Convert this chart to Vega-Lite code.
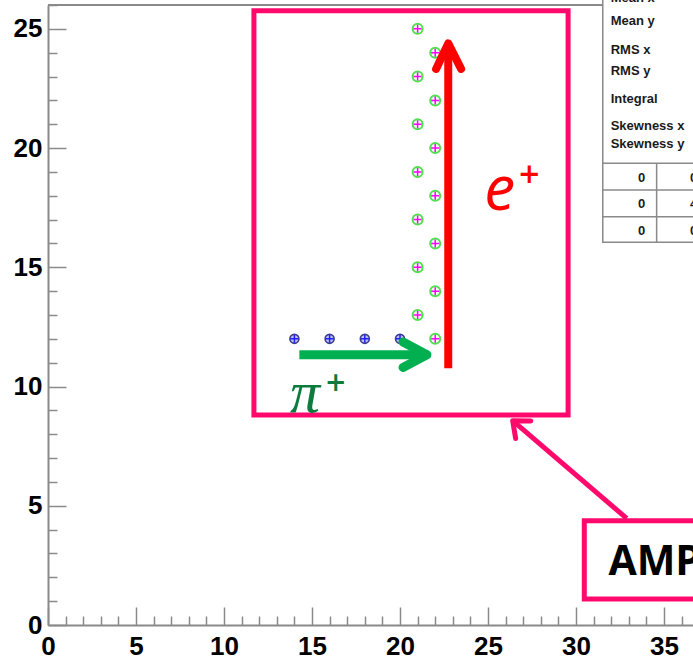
{
  "$schema": "https://vega.github.io/schema/vega-lite/v6.json",
  "width": 647,
  "height": 620,
  "autosize": {"type": "none"},
  "padding": {"left": 48, "top": 5, "right": 0, "bottom": 34},
  "background": "white",
  "config": {"view": {"stroke": null}},
  "datasets": {
    "pion": [{"x": 14, "y": 12}, {"x": 16, "y": 12}, {"x": 18, "y": 12}, {"x": 20, "y": 12}],
    "positron": [
      {"x": 21, "y": 25}, {"x": 21, "y": 23}, {"x": 21, "y": 21}, {"x": 21, "y": 19}, {"x": 21, "y": 17}, {"x": 21, "y": 15}, {"x": 21, "y": 13},
      {"x": 22, "y": 24}, {"x": 22, "y": 22}, {"x": 22, "y": 20}, {"x": 22, "y": 18}, {"x": 22, "y": 16}, {"x": 22, "y": 14}, {"x": 22, "y": 12}
    ],
    "frameTop": [{"x": 0, "x2": 31.52, "y": 26}],
    "zoomBox": [{"x": 11.7, "x2": 29.55, "y": 8.81, "y2": 25.76}],
    "greenShaft": [{"x": 14.28, "x2": 21.53, "y": 11.33}],
    "greenHead": [{"x": 20.17, "y": 11.87, "o": 0}, {"x": 21.53, "y": 11.33, "o": 1}, {"x": 20.17, "y": 10.8, "o": 2}],
    "redShaft": [{"x": 22.74, "y": 10.77, "y2": 24.39}],
    "redHead": [{"x": 22.05, "y": 23.32, "o": 0}, {"x": 22.74, "y": 24.39, "o": 1}, {"x": 23.47, "y": 23.32, "o": 2}],
    "pinkShaft": [{"x": 32.88, "y": 4.47, "x2": 26.4, "y2": 8.57}],
    "pinkHead": [{"x": 27.43, "y": 8.56, "o": 0}, {"x": 26.4, "y": 8.57, "o": 1}, {"x": 26.57, "y": 7.82, "o": 2}],
    "ampBox": [{"x": 30.47, "x2": 40, "y": 1.09, "y2": 4.37}],
    "ampText": [{"x": 31.84, "y": 2.1, "t": "AMP"}],
    "eText": [{"x": 24.78, "y": 17.4, "t": "e"}],
    "ePlus": [{"x": 27.35, "y": 18.85, "t": "+"}],
    "piText": [{"x": 13.75, "y": 8.94, "t": "π"}],
    "piPlus": [{"x": 16.35, "y": 10.05, "t": "+"}],
    "statsBox": [{"x": 31.52, "x2": 40, "y": 16.05, "y2": 27.5}],
    "statsLabels": [
      {"x": 31.97, "y": 26.13, "t": "Mean x"},
      {"x": 31.97, "y": 25.15, "t": "Mean y"},
      {"x": 31.97, "y": 23.94, "t": "RMS x"},
      {"x": 31.97, "y": 23.06, "t": "RMS y"},
      {"x": 31.97, "y": 21.9, "t": "Integral"},
      {"x": 31.97, "y": 20.76, "t": "Skewness x"},
      {"x": 31.97, "y": 19.99, "t": "Skewness y"}
    ],
    "statsHLines": [{"x": 31.52, "x2": 40, "y": 19.36}, {"x": 31.52, "x2": 40, "y": 18.24}, {"x": 31.52, "x2": 40, "y": 17.12}],
    "statsVLine": [{"x": 34.58, "y": 16.05, "y2": 19.36}],
    "statsCells": [{"x": 33.73, "y": 18.59, "t": "0"}, {"x": 33.73, "y": 17.47, "t": "0"}, {"x": 33.73, "y": 16.35, "t": "0"}],
    "statsCells2": [{"x": 36.48, "y": 18.59, "t": "0"}, {"x": 36.48, "y": 17.47, "t": "4"}, {"x": 36.48, "y": 16.35, "t": "0"}]
  },
  "encoding": {
    "x": {
      "field": "x",
      "type": "quantitative",
      "scale": {"domain": [0, 36.76], "nice": false, "zero": false},
      "axis": {
        "title": null,
        "grid": false,
        "values": [0,1,2,3,4,5,6,7,8,9,10,11,12,13,14,15,16,17,18,19,20,21,22,23,24,25,26,27,28,29,30,31,32,33,34,35,36],
        "labelExpr": "datum.value % 5 === 0 ? datum.label : ''",
        "tickSize": {"condition": {"test": "datum.value % 5 === 0", "value": -18}, "value": -9},
        "tickColor": "#8a8a8a",
        "tickWidth": 1.5,
        "domainColor": "#8a8a8a",
        "domainWidth": 2,
        "labelFont": "Liberation Sans",
        "labelFontWeight": "bold",
        "labelFontSize": 26,
        "labelColor": "#000000",
        "labelPadding": 26,
        "labelOverlap": false,
        "labelFlush": false
      }
    },
    "y": {
      "field": "y",
      "type": "quantitative",
      "scale": {"domain": [0, 26], "nice": false, "zero": false},
      "axis": {
        "title": null,
        "grid": false,
        "values": [0,1,2,3,4,5,6,7,8,9,10,11,12,13,14,15,16,17,18,19,20,21,22,23,24,25,26],
        "labelExpr": "datum.value % 5 === 0 ? datum.label : ''",
        "tickSize": {"condition": {"test": "datum.value % 5 === 0", "value": -18}, "value": -9},
        "tickColor": "#8a8a8a",
        "tickWidth": 1.5,
        "domainColor": "#8a8a8a",
        "domainWidth": 2,
        "labelFont": "Liberation Sans",
        "labelFontWeight": "bold",
        "labelFontSize": 26,
        "labelColor": "#000000",
        "labelPadding": 24,
        "labelOverlap": false,
        "labelFlush": false
      }
    }
  },
  "layer": [
    {"data": {"name": "frameTop"}, "mark": {"type": "rule", "color": "#8a8a8a", "strokeWidth": 2}, "encoding": {"x2": {"field": "x2"}}},
    {"data": {"name": "pion"}, "mark": {"type": "point", "shape": "circle", "size": 81, "filled": false, "stroke": "#3e3e8e", "fill": "#c0c0ee", "fillOpacity": 1, "strokeWidth": 1.6, "opacity": 1}},
    {"data": {"name": "pion"}, "mark": {"type": "point", "shape": "M-1,0H1M0,-1V1", "size": 64, "filled": false, "stroke": "#1f1fff", "strokeWidth": 1.5, "opacity": 1}},
    {"data": {"name": "positron"}, "mark": {"type": "point", "shape": "circle", "size": 100, "filled": false, "stroke": "#4fe04f", "fill": "#f0fff0", "fillOpacity": 1, "strokeWidth": 2, "opacity": 1}},
    {"data": {"name": "positron"}, "mark": {"type": "point", "shape": "M-1,0H1M0,-1V1", "size": 64, "filled": false, "stroke": "#ff00ff", "strokeWidth": 1.5, "opacity": 1}},
    {"data": {"name": "zoomBox"}, "mark": {"type": "rect", "filled": false, "stroke": "#ff0a6c", "strokeWidth": 5}, "encoding": {"x2": {"field": "x2"}, "y2": {"field": "y2"}}},
    {"data": {"name": "greenShaft"}, "mark": {"type": "rule", "color": "#00b050", "strokeWidth": 9, "strokeCap": "butt"}, "encoding": {"x2": {"field": "x2"}}},
    {"data": {"name": "greenHead"}, "mark": {"type": "line", "color": "#00b050", "strokeWidth": 9, "strokeCap": "round", "strokeJoin": "round"}, "encoding": {"order": {"field": "o"}}},
    {"data": {"name": "redShaft"}, "mark": {"type": "rule", "color": "#ff0000", "strokeWidth": 8, "strokeCap": "butt"}, "encoding": {"y2": {"field": "y2"}}},
    {"data": {"name": "redHead"}, "mark": {"type": "line", "color": "#ff0000", "strokeWidth": 8, "strokeCap": "round", "strokeJoin": "round"}, "encoding": {"order": {"field": "o"}}},
    {"data": {"name": "pinkShaft"}, "mark": {"type": "rule", "color": "#ff0a6c", "strokeWidth": 5, "strokeCap": "butt"}, "encoding": {"x2": {"field": "x2"}, "y2": {"field": "y2"}}},
    {"data": {"name": "pinkHead"}, "mark": {"type": "line", "color": "#ff0a6c", "strokeWidth": 5, "strokeCap": "round", "strokeJoin": "round"}, "encoding": {"order": {"field": "o"}}},
    {"data": {"name": "ampBox"}, "mark": {"type": "rect", "fill": "#ffffff", "stroke": "#ff0a6c", "strokeWidth": 5}, "encoding": {"x2": {"field": "x2"}, "y2": {"field": "y2"}}},
    {"data": {"name": "ampText"}, "mark": {"type": "text", "align": "left", "baseline": "alphabetic", "font": "Open Sans", "fontWeight": "bold", "fontSize": 41, "color": "#000000"}, "encoding": {"text": {"field": "t"}}},
    {"data": {"name": "eText"}, "mark": {"type": "text", "align": "left", "baseline": "alphabetic", "font": "Open Sans", "fontStyle": "italic", "fontSize": 62, "color": "#ff0000"}, "encoding": {"text": {"field": "t"}}},
    {"data": {"name": "ePlus"}, "mark": {"type": "text", "align": "center", "baseline": "middle", "font": "Open Sans", "fontWeight": 600, "fontSize": 36, "color": "#ff0000"}, "encoding": {"text": {"field": "t"}}},
    {"data": {"name": "piText"}, "mark": {"type": "text", "align": "left", "baseline": "alphabetic", "font": "Liberation Serif", "fontStyle": "italic", "fontSize": 60, "color": "#0b7b3e"}, "encoding": {"text": {"field": "t"}}},
    {"data": {"name": "piPlus"}, "mark": {"type": "text", "align": "center", "baseline": "middle", "font": "Open Sans", "fontWeight": 600, "fontSize": 34, "color": "#0b7b3e"}, "encoding": {"text": {"field": "t"}}},
    {"data": {"name": "statsBox"}, "mark": {"type": "rect", "fill": "#ffffff", "stroke": "#8a8a8a", "strokeWidth": 1.5}, "encoding": {"x2": {"field": "x2"}, "y2": {"field": "y2"}}},
    {"data": {"name": "statsHLines"}, "mark": {"type": "rule", "color": "#8a8a8a", "strokeWidth": 1.5}, "encoding": {"x2": {"field": "x2"}}},
    {"data": {"name": "statsVLine"}, "mark": {"type": "rule", "color": "#8a8a8a", "strokeWidth": 1.5}, "encoding": {"y2": {"field": "y2"}}},
    {"data": {"name": "statsLabels"}, "mark": {"type": "text", "align": "left", "baseline": "alphabetic", "font": "Liberation Sans", "fontWeight": "bold", "fontSize": 13, "color": "#1a1a1a"}, "encoding": {"text": {"field": "t"}}},
    {"data": {"name": "statsCells"}, "mark": {"type": "text", "align": "center", "baseline": "alphabetic", "font": "Liberation Sans", "fontWeight": "bold", "fontSize": 13, "color": "#1a1a1a"}, "encoding": {"text": {"field": "t"}}},
    {"data": {"name": "statsCells2"}, "mark": {"type": "text", "align": "left", "baseline": "alphabetic", "font": "Liberation Sans", "fontWeight": "bold", "fontSize": 13, "color": "#1a1a1a"}, "encoding": {"text": {"field": "t"}}}
  ]
}
